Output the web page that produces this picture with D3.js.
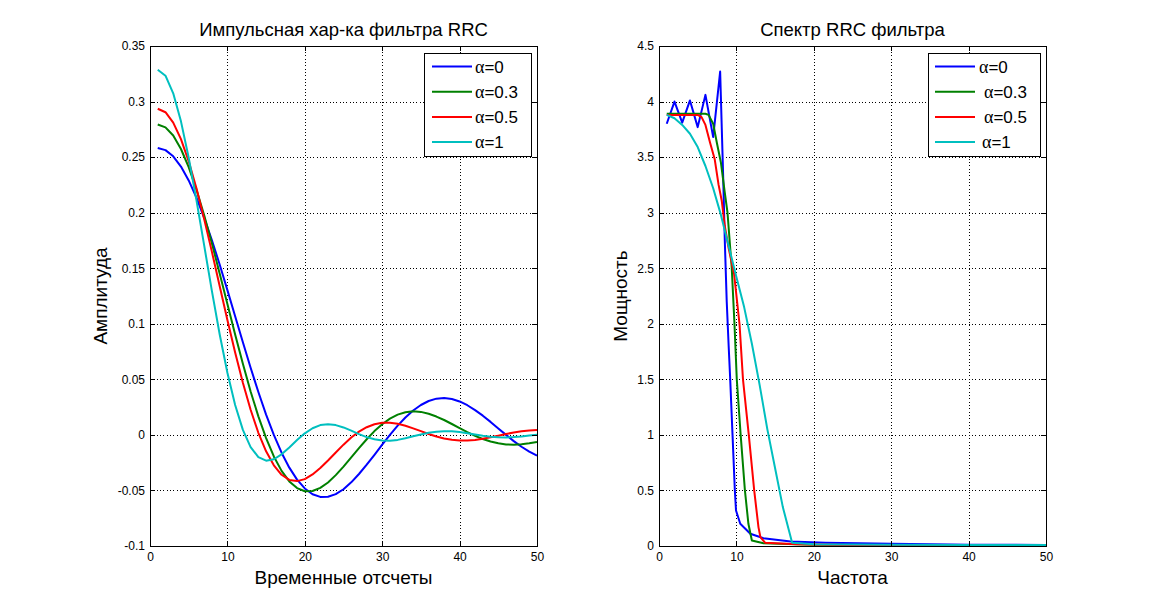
<!DOCTYPE html>
<html><head><meta charset="utf-8">
<script src="https://cdnjs.cloudflare.com/ajax/libs/d3/7.8.5/d3.min.js"></script>
<style>
body{margin:0;background:#fff}
text{font-family:Arial,"Liberation Sans",Helvetica,sans-serif;fill:#000}
</style>
</head><body>
<svg id="c" width="1156" height="614"></svg>
<script>
// ---------- DATA ----------
const sampleIdx = [1,2,3,4,5,6,7,8,9,10,11,12,13,14,15,16,17,18,19,20,21,22,23,24,25,26,27,28,29,30,31,32,33,34,35,36,37,38,39,40,41,42,43,44,45,46,47,48,49,50];
const seriesNames = ["α=0","α=0.3","α=0.5","α=1"];
const seriesColors = ["#0000ff","#008000","#ff0000","#00bfbf"];

const impA0 = [0.2582,0.2563,0.2507,0.2415,0.2290,0.2135,0.1954,0.1752,0.1533,0.1303,0.1068,0.0833,0.0604,0.0386,0.0183,0,-0.0160,-0.0295,-0.0403,-0.0482,-0.0534,-0.0558,-0.0557,-0.0533,-0.0489,-0.0427,-0.0352,-0.0268,-0.0179,-0.0088,0,0.0083,0.0157,0.0220,0.0269,0.0305,0.0326,0.0331,0.0323,0.0301,0.0267,0.0223,0.0173,0.0117,0.0058,0,-0.0056,-0.0107,-0.0151,-0.0187];
const impA03 = [0.2794,0.2768,0.2694,0.2573,0.2409,0.2208,0.1977,0.1723,0.1453,0.1177,0.0903,0.0640,0.0391,0.0167,-0.0029,-0.0194,-0.0324,-0.0419,-0.0479,-0.0507,-0.0505,-0.0477,-0.0428,-0.0362,-0.0285,-0.0203,-0.0119,-0.0039,0.0034,0.0096,0.0146,0.0182,0.0204,0.0212,0.0207,0.0190,0.0165,0.0134,0.0098,0.0061,0.0025,-0.0009,-0.0037,-0.0060,-0.0076,-0.0086,-0.0088,-0.0084,-0.0076,-0.0063];
const impA05 = [0.2935,0.2904,0.2811,0.2662,0.2462,0.2219,0.1944,0.1647,0.1340,0.1034,0.0741,0.0469,0.0226,0.0019,-0.0148,-0.0274,-0.0359,-0.0405,-0.0416,-0.0398,-0.0356,-0.0298,-0.0230,-0.0158,-0.0088,-0.0024,0.0029,0.0069,0.0096,0.0109,0.0110,0.0100,0.0082,0.0059,0.0034,0.0008,-0.0014,-0.0032,-0.0044,-0.0050,-0.0050,-0.0045,-0.0035,-0.0022,-0.0007,0.0008,0.0021,0.0032,0.0039,0.0043];
const impA1 = [0.3287,0.3233,0.3074,0.2822,0.2494,0.2113,0.1705,0.1294,0.0906,0.0559,0.0269,0.0045,-0.0110,-0.0200,-0.0232,-0.0219,-0.0175,-0.0113,-0.0046,0.0014,0.0060,0.0088,0.0096,0.0088,0.0067,0.0038,0.0007,-0.0020,-0.0040,-0.0051,-0.0052,-0.0045,-0.0031,-0.0013,0.0004,0.0019,0.0029,0.0033,0.0032,0.0025,0.0015,0.0003,-0.0008,-0.0017,-0.0022,-0.0023,-0.0020,-0.0014,-0.0006,0.0002];

const specXA0 = [1,2,3,4,5,6,7,7.9,8.3,8.5,8.75,9.0,9.2,9.5,9.8,9.95,10.5,11.8,13.5,17,21.5,30,40,50];
const specYA0 = [3.80,4.00,3.81,4.01,3.77,4.06,3.68,4.27,3.30,2.75,2.20,1.80,1.50,1.00,0.50,0.32,0.20,0.11,0.07,0.04,0.03,0.02,0.012,0.01];
const specXA03 = [1,2,3,4,5,6,6.4,7.0,7.5,8.0,8.5,8.85,9.4,9.75,10.05,10.55,11.1,11.55,12.0,13.5,15.5,20,30,50];
const specYA03 = [3.89,3.89,3.89,3.89,3.89,3.89,3.88,3.80,3.62,3.45,3.18,3.00,2.50,2.00,1.50,1.00,0.50,0.20,0.05,0.025,0.02,0.012,0.01,0.01];
const specXA05 = [1,2,3,4,5,5.5,6.0,6.6,7.2,7.7,8.1,8.5,9.0,9.7,10.4,10.85,11.6,12.3,12.85,13.1,13.7,17.8,25,50];
const specYA05 = [3.88,3.88,3.88,3.88,3.88,3.86,3.79,3.63,3.48,3.25,3.11,2.88,2.68,2.45,2.00,1.50,1.00,0.50,0.17,0.08,0.03,0.015,0.01,0.01];
const specXA1 = [1,2,3,4,5,6,7,8,9,10,11,12,13,14,15,16,17.2,20,30,40,50];
const specYA1 = [3.88,3.85,3.79,3.71,3.59,3.42,3.22,2.98,2.70,2.42,2.15,1.82,1.45,1.05,0.70,0.35,0.03,0.015,0.012,0.01,0.01];

const xTicks = [0,10,20,30,40,50];
const xTickLabels = ["0","10","20","30","40","50"];
const impYTicks = [-0.1,-0.05,0,0.05,0.1,0.15,0.2,0.25,0.3,0.35];
const impYTickLabels = ["-0.1","-0.05","0","0.05","0.1","0.15","0.2","0.25","0.3","0.35"];
const specYTicks = [0,0.5,1,1.5,2,2.5,3,3.5,4,4.5];
const specYTickLabels = ["0","0.5","1","1.5","2","2.5","3","3.5","4","4.5"];

// ---------- DRAW ----------
const svg = d3.select("#c");

function panel(cfg){
  const g = svg.append("g");
  const x = d3.scaleLinear().domain([0,50]).range([cfg.x0,cfg.x1]);
  const y = d3.scaleLinear().domain(cfg.yDomain).range([cfg.y1,cfg.y0]);
  const W = cfg.x1-cfg.x0, H = cfg.y1-cfg.y0;

  // grid
  const gx = g.append("g").attr("transform",`translate(0,${cfg.y1})`)
    .call(d3.axisBottom(x).tickValues(xTicks.filter(v=>v>0&&v<50)).tickSize(-H).tickFormat(""));
  const gy = g.append("g").attr("transform",`translate(${cfg.x0},0)`)
    .call(d3.axisLeft(y).tickValues(cfg.yTicks.slice(1,-1)).tickSize(-W).tickFormat(""));
  [gx,gy].forEach(a=>{a.select(".domain").remove();
    a.selectAll("line").attr("stroke","#000").attr("stroke-width",1).attr("stroke-dasharray","1,2.33").attr("shape-rendering","crispEdges");});

  // lines
  const clipId = "clip"+cfg.id;
  svg.append("clipPath").attr("id",clipId).append("rect")
    .attr("x",cfg.x0).attr("y",cfg.y0).attr("width",W).attr("height",H);
  const line = d3.line().x(d=>x(d[0])).y(d=>y(d[1]));
  const lg = g.append("g").attr("clip-path",`url(#${clipId})`);
  cfg.series.forEach((s,i)=>{
    const pts = s.xs.map((v,k)=>[v,s.ys[k]]);
    lg.append("path").datum(pts).attr("d",line).attr("fill","none")
      .attr("stroke",seriesColors[i]).attr("stroke-width",2).attr("stroke-linejoin","round");
  });

  // axes (ticks inward on all sides)
  const fmtX = (d)=>xTickLabels[xTicks.indexOf(d)];
  const fmtY = (d)=>cfg.yLabels[cfg.yTicks.indexOf(d)];
  const ab = g.append("g").attr("transform",`translate(0,${cfg.y1})`)
    .call(d3.axisBottom(x).tickValues(xTicks).tickSize(-5).tickSizeOuter(0).tickPadding(6).tickFormat(fmtX));
  const at = g.append("g").attr("transform",`translate(0,${cfg.y0})`)
    .call(d3.axisTop(x).tickValues(xTicks).tickSize(-5).tickSizeOuter(0).tickFormat(""));
  const al = g.append("g").attr("transform",`translate(${cfg.x0},0)`)
    .call(d3.axisLeft(y).tickValues(cfg.yTicks).tickSize(-5).tickSizeOuter(0).tickPadding(5).tickFormat(fmtY));
  const ar = g.append("g").attr("transform",`translate(${cfg.x1},0)`)
    .call(d3.axisRight(y).tickValues(cfg.yTicks).tickSize(-5).tickSizeOuter(0).tickFormat(""));
  [ab,at,al,ar].forEach(a=>{
    a.selectAll("path.domain").attr("stroke","#000").attr("shape-rendering","crispEdges");
    a.selectAll("line").attr("stroke","#000").attr("shape-rendering","crispEdges");
    a.selectAll("text").attr("font-size",12).attr("font-family","Arial, 'Liberation Sans', sans-serif").attr("fill","#000");
  });

  // title & labels
  g.append("text").attr("x",(cfg.x0+cfg.x1)/2).attr("y",36).attr("text-anchor","middle")
    .attr("font-size",18.5).text(cfg.title);
  g.append("text").attr("x",(cfg.x0+cfg.x1)/2).attr("y",584).attr("text-anchor","middle")
    .attr("font-size",19).text(cfg.xlabel);
  g.append("text").attr("transform",`translate(${cfg.ylabX},${(cfg.y0+cfg.y1)/2}) rotate(-90)`)
    .attr("text-anchor","middle").attr("font-size",19).text(cfg.ylabel);

  // legend
  const L = cfg.legend;
  const leg = g.append("g");
  leg.append("rect").attr("x",L.x+0.5).attr("y",L.y+0.5).attr("width",L.w).attr("height",L.h)
    .attr("fill","#fff").attr("stroke","#000").attr("stroke-width",1);
  seriesNames.forEach((nm,i)=>{
    const cy = L.y + 13.5 + i*25.2;
    leg.append("line").attr("x1",L.lx0).attr("x2",L.lx1).attr("y1",cy).attr("y2",cy)
      .attr("stroke",seriesColors[i]).attr("stroke-width",2);
    const t = leg.append("text").attr("x",L.tx[i]).attr("y",cy+6).attr("font-size",17);
    t.append("tspan").attr("font-family","'Liberation Serif','DejaVu Serif',serif").attr("font-size",18).text("α");
    t.append("tspan").text(nm.slice(1));
  });
}

panel({id:"L", x0:150, x1:537, y0:46, y1:546, yDomain:[-0.1,0.35],
  yTicks:impYTicks, yLabels:impYTickLabels,
  title:"Импульсная хар-ка фильтра RRC", xlabel:"Временные отсчеты", ylabel:"Амплитуда", ylabX:107,
  series:[{xs:sampleIdx,ys:impA0},{xs:sampleIdx,ys:impA03},{xs:sampleIdx,ys:impA05},{xs:sampleIdx,ys:impA1}],
  legend:{x:424,y:53,w:107,h:103,lx0:432,lx1:472,tx:[475,475,475,475]}
});
panel({id:"R", x0:659, x1:1046, y0:46, y1:546, yDomain:[0,4.5],
  yTicks:specYTicks, yLabels:specYTickLabels,
  title:"Спектр RRC фильтра", xlabel:"Частота", ylabel:"Мощность", ylabX:627,
  series:[{xs:specXA0,ys:specYA0},{xs:specXA03,ys:specYA03},{xs:specXA05,ys:specYA05},{xs:specXA1,ys:specYA1}],
  legend:{x:928,y:53,w:112,h:103,lx0:935,lx1:975,tx:[979,984,984,982]}
});
</script>
</body></html>
